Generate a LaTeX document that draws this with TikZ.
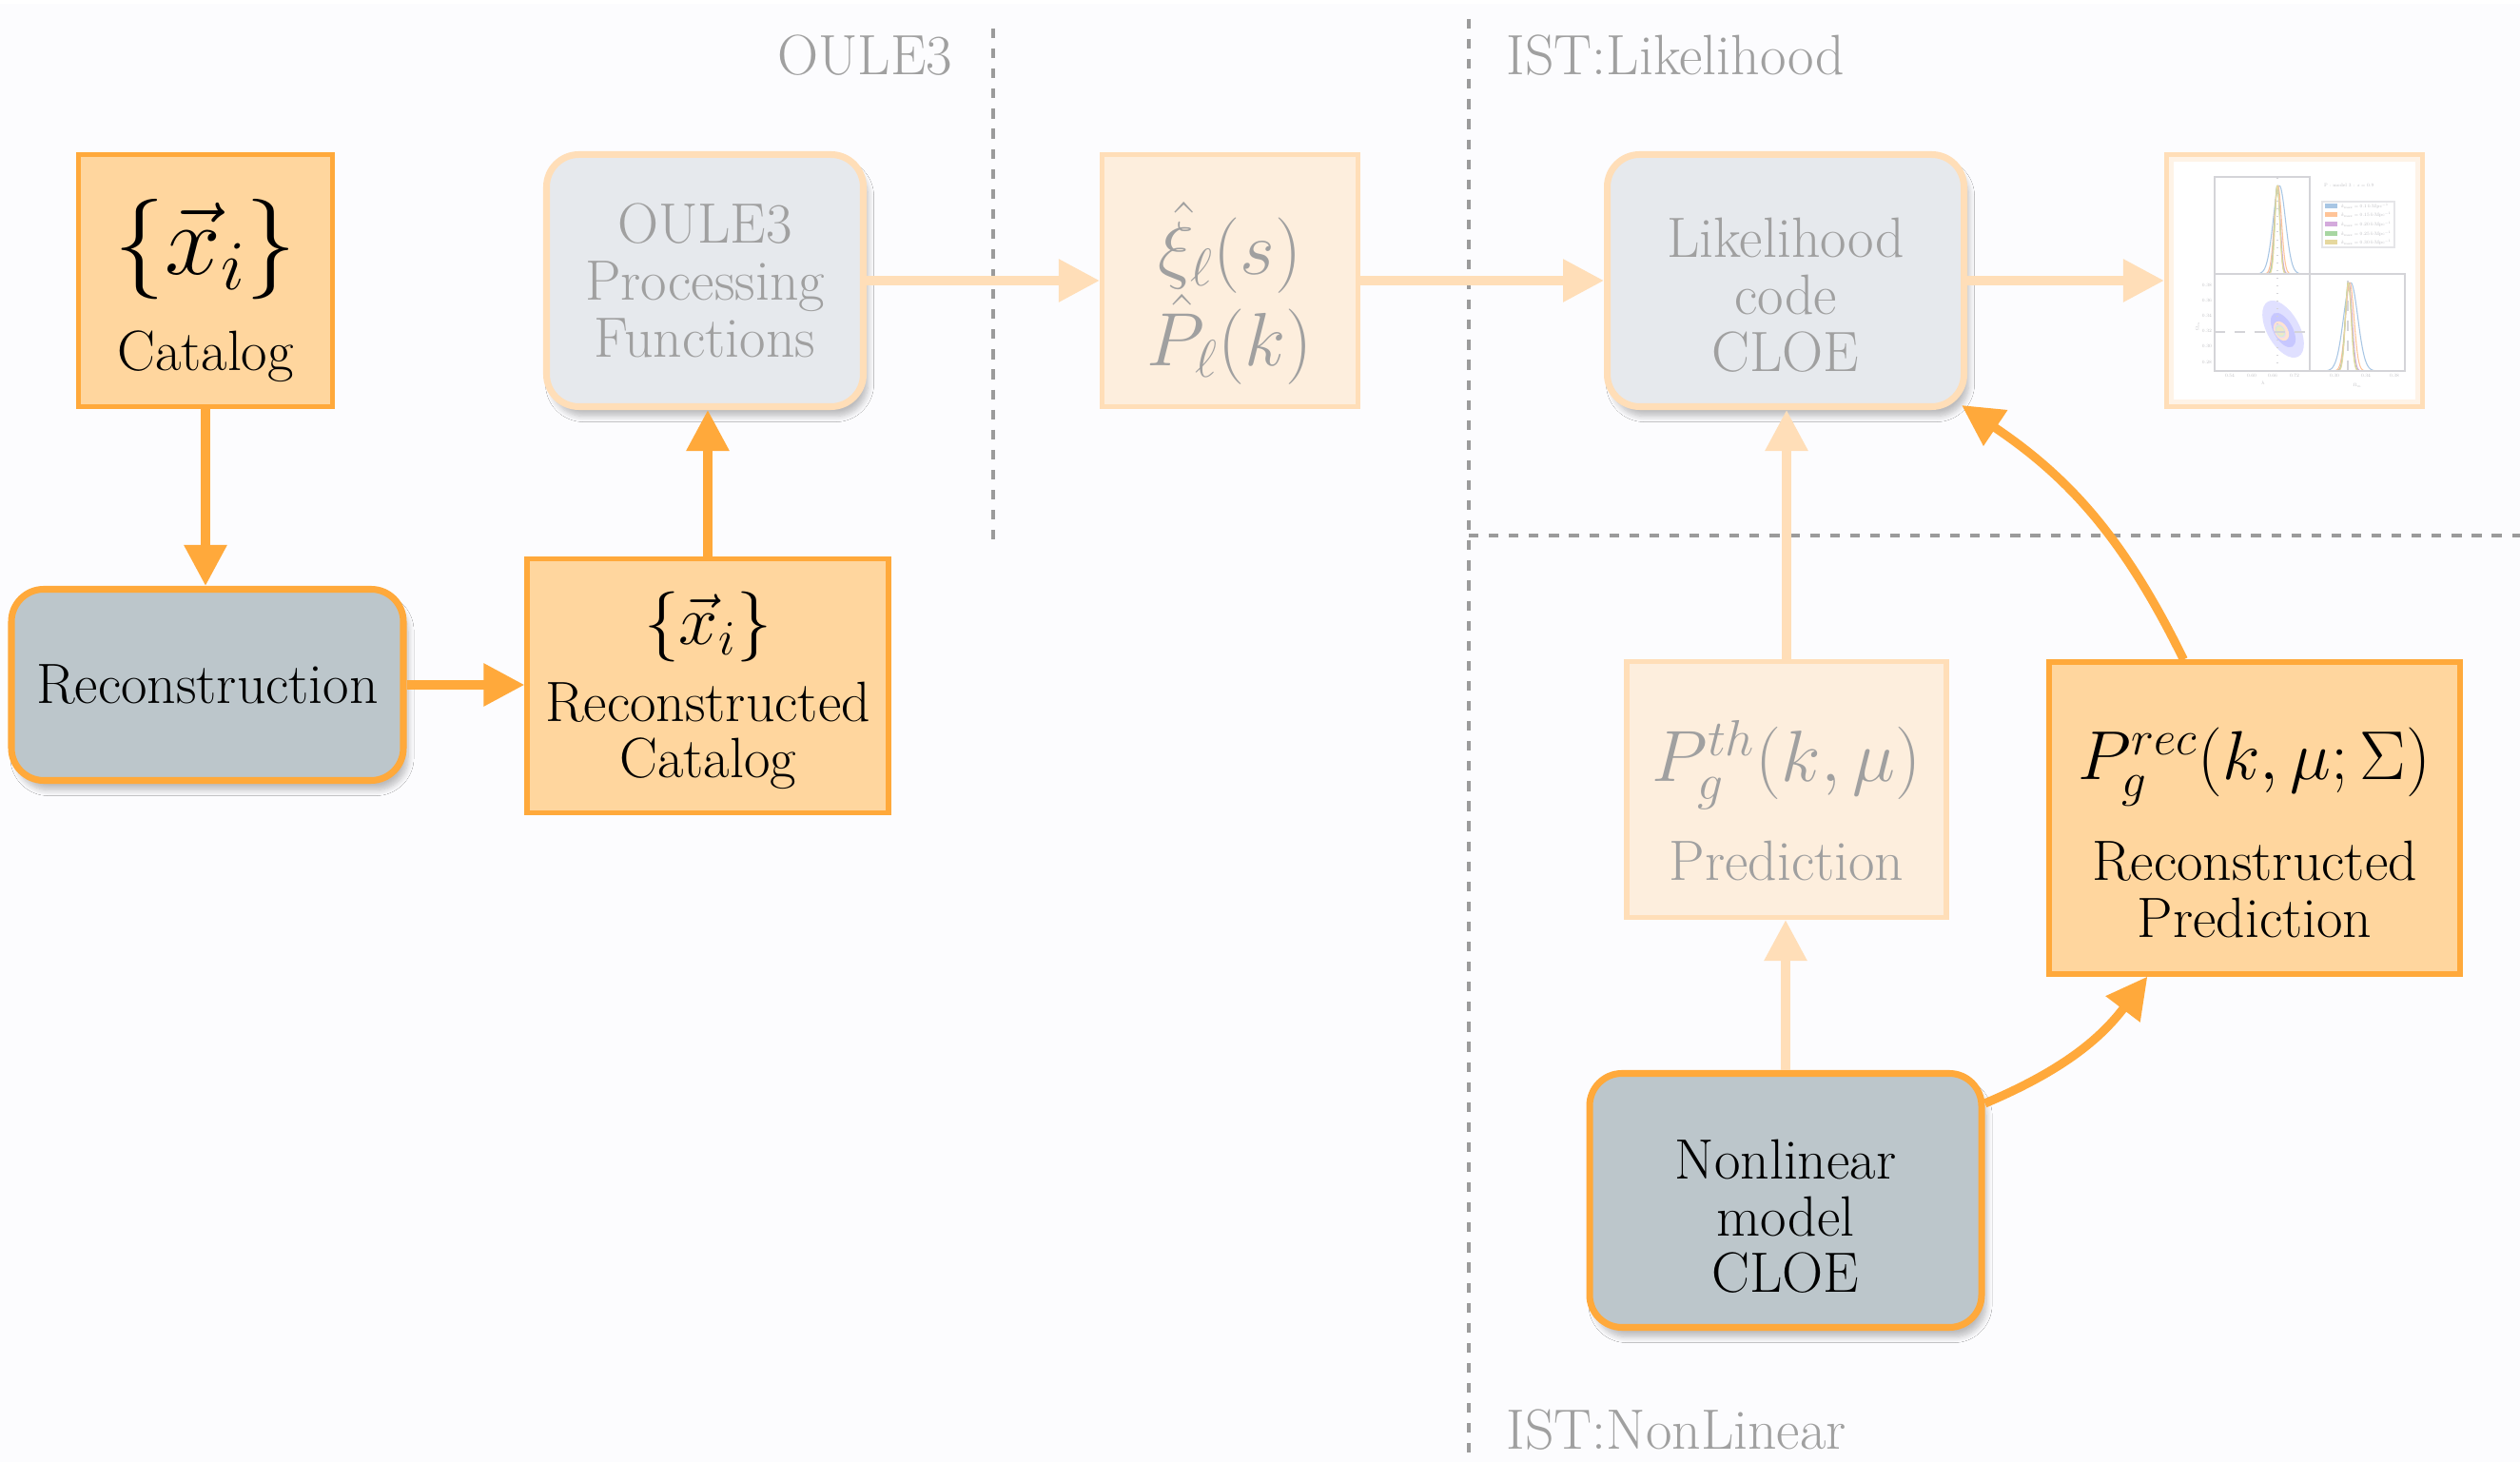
\documentclass[tikz,border=0pt]{standalone}
\usepackage{fix-cm}
\usepackage{tikz}
\usepackage{xcolor}
\usetikzlibrary{arrows.meta}
\usetikzlibrary{shadows.blur, positioning}

\definecolor{orangeline}{RGB}{255,169,59}
\definecolor{orangefill}{RGB}{255,214,158}
\definecolor{slatefill}{RGB}{188,198,203}
\definecolor{paleline}{RGB}{255,222,184}
\definecolor{palefill}{RGB}{253,238,221}
\definecolor{palegrey}{RGB}{230,233,237}
\definecolor{fadedtext}{RGB}{160,160,160}
\definecolor{divider}{RGB}{155,155,155}
\definecolor{backdrop}{RGB}{252,252,254}
% colours of the small contour plot
\definecolor{thumbaxis}{RGB}{212,212,216}
\definecolor{thumbtext}{RGB}{188,188,192}
\definecolor{thumbblue}{RGB}{168,198,228}
\definecolor{thumborange}{RGB}{255,196,152}
\definecolor{thumbpurple}{RGB}{212,170,220}
\definecolor{thumbgreen}{RGB}{168,214,162}
\definecolor{thumbyellow}{RGB}{230,216,158}

% fixed line distances, so the struts below decide where the lines sit
\newcommand{\boxfont}{\fontsize{17}{17}\selectfont\lineskiplimit=-20pt\relax}
\newcommand{\estfont}{\fontsize{22.6}{27.3}\selectfont\lineskiplimit=-20pt\relax}
\newcommand{\topstrut}[1]{\rule{0pt}{#1}}
\newcommand{\botstrut}[1]{\rule[-#1]{0pt}{#1}}

\begin{document}
\begin{tikzpicture}[>={Triangle[length=4.3mm,width=4.3mm]}, font=\boxfont]
  \tikzstyle{catalog}=[draw=orangeline, fill=orangefill, line width=1.5pt, align=center, inner sep=0pt]
  \tikzstyle{module}=[draw=orangeline, fill=slatefill, line width=2pt, rounded corners=0.34cm,
                      align=center, inner sep=0pt,
                      blur shadow={shadow xshift=0.5mm, shadow yshift=-1mm, shadow opacity=25, shadow blur steps=8}]
  \tikzstyle{faded}=[catalog, draw=paleline, fill=palefill, text=fadedtext]
  \tikzstyle{fadedmodule}=[module, draw=paleline, fill=palegrey, text=fadedtext]
  \tikzstyle{flow}=[->, draw=orangeline, line width=2.6pt]
  \tikzstyle{paleflow}=[->, draw=paleline, line width=2.6pt]
  \tikzstyle{divide}=[draw=divider, line width=1.3pt, dash pattern=on 2.9pt off 3.1pt]
  \tikzstyle{region}=[text=fadedtext, inner sep=0pt]
  \tikzstyle{ticklabel}=[text=thumbtext, font=\fontsize{7}{8}\selectfont, inner sep=0pt, scale=0.2, transform shape]

  \useasboundingbox (0,0) rectangle (26.49,-15.37);
  \fill[backdrop] (0,-0.04) rectangle (26.49,-15.37);

  % dashed borders between the work packages
  \draw[divide] (10.44,-0.30) -- (10.44,-5.71);
  \draw[divide] (15.44,-0.20) -- (15.44,-15.37);
  \draw[divide] (15.44,-5.63) -- (26.49,-5.63);

  \node[region, anchor=base east] (oulelbl) at (10.02,-0.79) {OULE3};
  \node[region, anchor=base west] (liklbl)  at (15.83,-0.79) {IST:Likelihood};
  \node[region, anchor=base west] (nllbl)   at (15.83,-15.24) {IST:NonLinear};

  % boxes
  \node[catalog, minimum width=2.67cm, minimum height=2.65cm] (cat) at (2.16,-2.95)
       {\topstrut{29.1pt}{\fontsize{30}{30}\selectfont$\{\vec{x}_i\}$}\\[11.8pt]Catalog\botstrut{4pt}};
  \node[module, minimum width=4.12cm, minimum height=2.01cm] (rec) at (2.18,-7.20) {Reconstruction};
  \node[catalog, minimum width=3.80cm, minimum height=2.67cm] (rcat) at (7.44,-7.21)
       {\topstrut{19.2pt}{\fontsize{21}{21}\selectfont$\{\vec{x}_i\}$}\\[5.9pt]Reconstructed\\Catalog\botstrut{4pt}};
  \node[fadedmodule, minimum width=3.33cm, minimum height=2.65cm] (oule) at (7.41,-2.95)
       {OULE3\\Processing\\Functions};
  \node[faded, minimum width=2.69cm, minimum height=2.65cm, font=\estfont] (est) at (12.93,-2.95)
       {\topstrut{30.6pt}$\hat{\xi}_\ell(s)$\\$\hat{P}_\ell(k)$\botstrut{7pt}};
  \node[fadedmodule, minimum width=3.75cm, minimum height=2.65cm] (lik) at (18.77,-2.95)
       {\topstrut{20.4pt}Likelihood\\code\\CLOE};
  \node[draw=paleline, fill=palefill!70, line width=1.5pt, minimum width=2.69cm, minimum height=2.65cm] (plot) at (24.12,-2.95) {};
  \node[faded, minimum width=3.36cm, minimum height=2.69cm] (pth) at (18.78,-8.30)
       {\topstrut{29pt}{\fontsize{21.7}{22}\selectfont$P_g^{th}(k,\mu)$}\\[12.6pt]Prediction\botstrut{4pt}};
  \node[catalog, minimum width=4.32cm, minimum height=3.28cm] (prec) at (23.70,-8.60)
       {\topstrut{28.2pt}{\fontsize{20.7}{22}\selectfont$P_g^{rec}(k,\mu;\Sigma)$}\\[13.2pt]Reconstructed\\Prediction\botstrut{4pt}};
  \node[module, minimum width=4.12cm, minimum height=2.67cm] (nl) at (18.77,-12.62)
       {\topstrut{21.4pt}Nonlinear\\model\\CLOE};

  % small triangle plot of the posteriors
  \fill[white] ([shift={(0.1,-0.1)}]plot.north west) rectangle ([shift={(-0.1,0.1)}]plot.south east);
  \begin{scope}[shift={(23.28,-3.90)}, line width=0.3pt]
    \fill[blue!12!white] (0.72,0.44) ellipse[x radius=0.33, y radius=0.17, rotate=-61];
    \fill[blue!22!white] (0.72,0.43) ellipse[x radius=0.20, y radius=0.10, rotate=-61];
    \fill[thumborange!45!white] (0.70,0.42) ellipse[x radius=0.11, y radius=0.07, rotate=-61];
    \fill[thumbpurple!45!white] (0.69,0.42) ellipse[x radius=0.08, y radius=0.05, rotate=-61];
    \fill[thumbgreen!45!white] (0.69,0.42) ellipse[x radius=0.065, y radius=0.045, rotate=-61];
    \fill[thumbyellow!60!white] (0.69,0.42) ellipse[x radius=0.05, y radius=0.035, rotate=-61];
    \draw[thumbaxis, dotted] (0.66,0) -- (0.66,2.04);
    \draw[thumbaxis, dashed] (0,0.41) -- (1,0.41);
    \draw[thumbaxis, dashed] (1.40,0) -- (1.40,1.02);
    \foreach \m/\s/\c in {0.680/0.065/thumbblue, 0.665/0.038/thumborange, 0.660/0.030/thumbpurple,
                          0.658/0.027/thumbgreen, 0.660/0.025/thumbyellow} {
      \pgfmathsetmacro\lo{\m-4*\s}
      \pgfmathsetmacro\hi{\m+4*\s}
      \draw[\c] plot[domain=\lo:\hi, samples=40, smooth] (\x, {1.02+0.93*exp(-((\x-\m)/\s)^2/2)});
    }
    \foreach \m/\s/\c in {1.430/0.075/thumbblue, 1.420/0.045/thumborange, 1.410/0.035/thumbpurple,
                          1.405/0.032/thumbgreen, 1.405/0.030/thumbyellow} {
      \pgfmathsetmacro\lo{\m-4*\s}
      \pgfmathsetmacro\hi{\m+4*\s}
      \draw[\c] plot[domain=\lo:\hi, samples=40, smooth] (\x, {0.93*exp(-((\x-\m)/\s)^2/2)});
    }
    \draw[thumbaxis] (0,0) rectangle (1,1.02) (0,1.02) rectangle (1,2.04) (1,0) rectangle (2,1.02);
    % ticks and labels
    \foreach \t/\v in {0.16/0.54, 0.39/0.60, 0.61/0.66, 0.84/0.72}
      \node[ticklabel] at (\t,-0.05) {\v};
    \foreach \t/\v in {1.26/0.30, 1.59/0.34, 1.89/0.38}
      \node[ticklabel] at (\t,-0.05) {\v};
    \foreach \t/\v in {0.90/0.38, 0.74/0.36, 0.58/0.34, 0.42/0.32, 0.26/0.30, 0.09/0.28}
      \node[ticklabel, anchor=east] at (-0.03,\t) {\v};
    \node[ticklabel] at (0.51,-0.13) {$h$};
    \node[ticklabel] at (1.50,-0.15) {$\Omega_m$};
    \node[ticklabel, rotate=90] at (-0.18,0.47) {$\Omega_m$};
    % legend
    \node[ticklabel, anchor=west] at (1.15,1.95) {P : model 3 : $z=0.9$};
    \draw[thumbaxis!60, fill=white] (1.13,1.30) rectangle (1.89,1.78);
    \foreach \y/\c/\k in {1.73/thumbblue/0.1, 1.64/thumborange/0.15, 1.54/thumbpurple/0.20,
                          1.44/thumbgreen/0.25, 1.35/thumbyellow/0.30} {
      \fill[\c] (1.16,\y-0.025) rectangle (1.29,\y+0.025);
      \node[ticklabel, anchor=west] at (1.33,\y) {$k_{\rm max}=\k\,h\,{\rm Mpc}^{-1}$};
    }
  \end{scope}

  % connectors
  \draw[flow] (cat) -- (cat |- rec.north);
  \draw[flow] (rec.east) -- (rec.east -| rcat.west);
  \draw[flow] (rcat) -- (rcat |- oule.south);
  \path (oule) edge[paleflow] (est)
        (est)  edge[paleflow] (lik)
        (lik)  edge[paleflow] (plot)
        (nl)   edge[paleflow] (nl |- pth.south)
        (pth)  edge[paleflow] (pth |- lik.south);
  \draw[flow] ([xshift=1.44cm]prec.north west) to[bend right=15] ([shift={(-0.06,0.05)}]lik.south east);
  \draw[flow] ([yshift=-0.35cm]nl.north east) to[bend right=15] ([xshift=1.06cm]prec.south west);
\end{tikzpicture}
\end{document}
